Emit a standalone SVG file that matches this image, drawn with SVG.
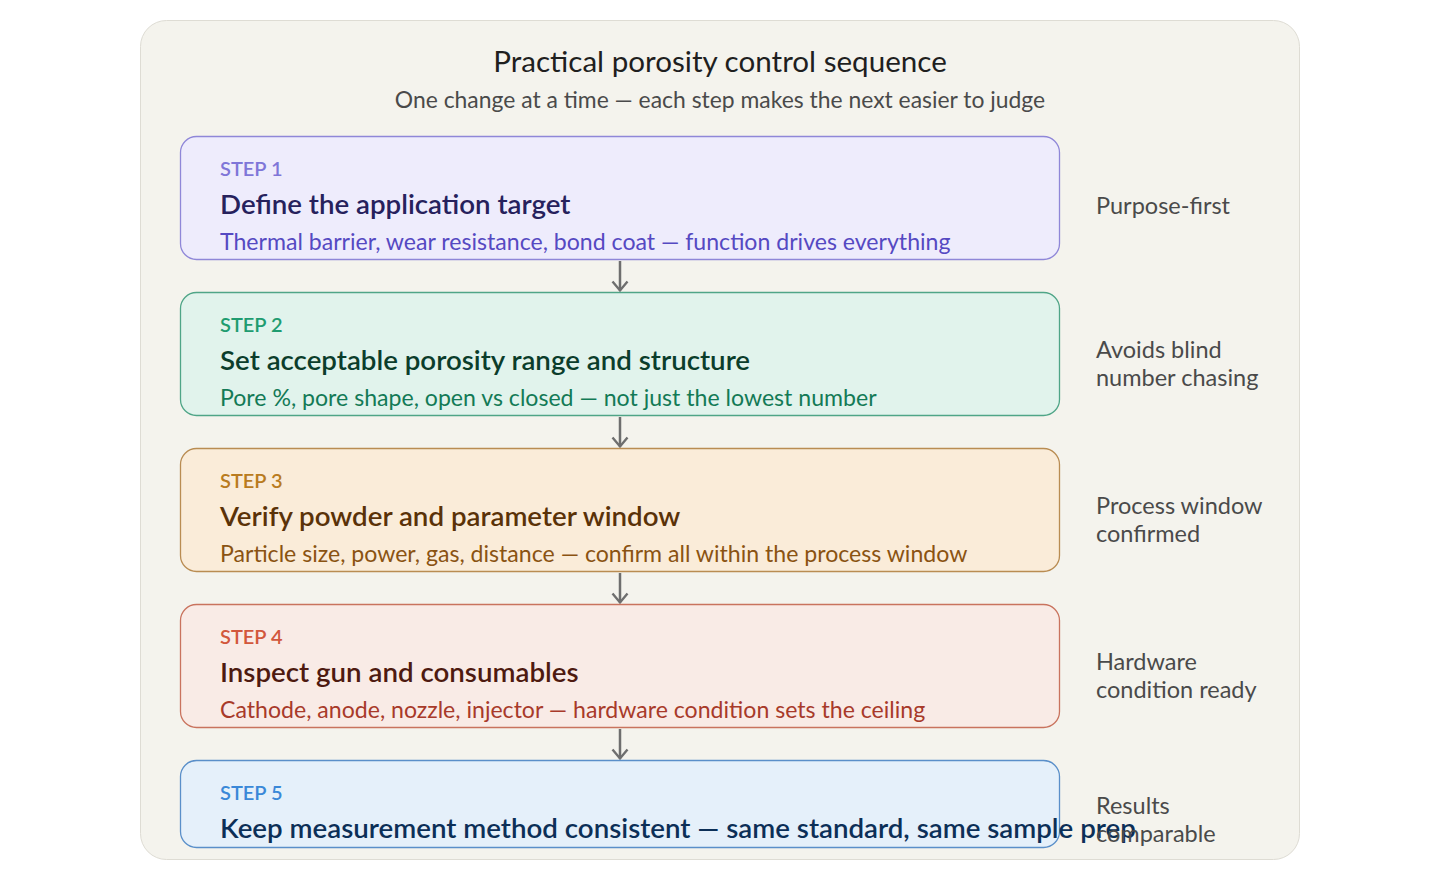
<svg xmlns="http://www.w3.org/2000/svg" width="1440" height="880" viewBox="0 0 1440 880">
<defs>
<style>
text{font-family:Lato,"Source Sans Pro","Noto Sans",sans-serif}
.title{font-size:29.6px;fill:#1f1f1f;text-anchor:middle}
.sub{font-size:22.9px;fill:#4a4a4a;text-anchor:middle}
.step{font-size:20px;font-weight:600}
.head{font-size:27.7px;font-weight:600}
.desc{font-size:23.1px}
.note{font-size:23.5px;fill:#4a4a4a}
.box{stroke-width:1.3}
.arrow{stroke:#6e6e6e;stroke-width:2.5;fill:none}
</style>
<marker id="ah" viewBox="-2 -10 14 20" refX="10" refY="0" markerWidth="14" markerHeight="20" markerUnits="userSpaceOnUse" orient="auto">
<path d="M1 -7.5 L10 0 L1 7.5" fill="none" stroke="#6e6e6e" stroke-width="2.4" stroke-linejoin="miter"/>
</marker>
</defs>
<rect x="140.5" y="20.5" width="1159" height="839" rx="26" fill="#f4f3ed" stroke="#dedcd4"/>
<text class="title" x="720" y="72">Practical porosity control sequence</text>
<text class="sub" x="720" y="108">One change at a time — each step makes the next easier to judge</text>
<g id="connectors">
<line class="arrow" x1="620" y1="261" x2="620" y2="290.5" marker-end="url(#ah)"/>
<line class="arrow" x1="620" y1="417" x2="620" y2="446.5" marker-end="url(#ah)"/>
<line class="arrow" x1="620" y1="573" x2="620" y2="602.5" marker-end="url(#ah)"/>
<line class="arrow" x1="620" y1="729" x2="620" y2="758.5" marker-end="url(#ah)"/>
</g>
<g id="step1">
<rect class="box" x="180.5" y="136.5" width="879" height="123" rx="16" fill="#eeecfc" stroke="#8f87d8"/>
<text class="step" x="220" y="176" fill="#7f76d8">STEP 1</text>
<text class="head" x="220" y="214" fill="#26215c">Define the application target</text>
<text class="desc" x="220" y="250" fill="#5549c2">Thermal barrier, wear resistance, bond coat — function drives everything</text>
<text class="note" x="1096" y="214">Purpose-first</text>
</g>
<g id="step2">
<rect class="box" x="180.5" y="292.5" width="879" height="123" rx="16" fill="#e1f3ec" stroke="#4fa587"/>
<text class="step" x="220" y="332" fill="#1f9c70">STEP 2</text>
<text class="head" x="220" y="370" fill="#0b3d2b">Set acceptable porosity range and structure</text>
<text class="desc" x="220" y="406" fill="#137a56">Pore %, pore shape, open vs closed — not just the lowest number</text>
<text class="note" x="1096" y="358">Avoids blind</text>
<text class="note" x="1096" y="386">number chasing</text>
</g>
<g id="step3">
<rect class="box" x="180.5" y="448.5" width="879" height="123" rx="16" fill="#faecd9" stroke="#b98c52"/>
<text class="step" x="220" y="488" fill="#b97b20">STEP 3</text>
<text class="head" x="220" y="526" fill="#5a3208">Verify powder and parameter window</text>
<text class="desc" x="220" y="562" fill="#8a5312">Particle size, power, gas, distance — confirm all within the process window</text>
<text class="note" x="1096" y="514">Process window</text>
<text class="note" x="1096" y="542">confirmed</text>
</g>
<g id="step4">
<rect class="box" x="180.5" y="604.5" width="879" height="123" rx="16" fill="#f9ebe6" stroke="#c9735e"/>
<text class="step" x="220" y="644" fill="#d2573c">STEP 4</text>
<text class="head" x="220" y="682" fill="#4e1a10">Inspect gun and consumables</text>
<text class="desc" x="220" y="718" fill="#a83a2a">Cathode, anode, nozzle, injector — hardware condition sets the ceiling</text>
<text class="note" x="1096" y="670">Hardware</text>
<text class="note" x="1096" y="698">condition ready</text>
</g>
<g id="step5">
<rect class="box" x="180.5" y="760.5" width="879" height="87" rx="16" fill="#e5f0fa" stroke="#5a8fc9"/>
<text class="step" x="220" y="800" fill="#3a88d8">STEP 5</text>
<text class="head" x="220" y="838" fill="#0c2f57">Keep measurement method consistent — same standard, same sample prep</text>
<text class="note" x="1096" y="814">Results</text>
<text class="note" x="1096" y="842">comparable</text>
</g>
</svg>
